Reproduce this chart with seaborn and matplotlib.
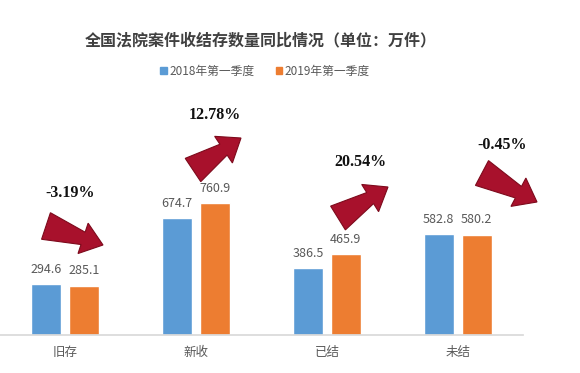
import numpy as np
import pandas as pd
import seaborn as sns
import matplotlib.pyplot as plt
from matplotlib.patches import Polygon

categories = ['旧存', '新收', '已结', '未结']
series_names = ['2018年第一季度', '2019年第一季度']
values_2018 = [294.6, 674.7, 386.5, 582.8]
values_2019 = [285.1, 760.9, 465.9, 580.2]
changes = ['-3.19%', '12.78%', '20.54%', '-0.45%']

df = pd.DataFrame({
    'cat': categories * 2,
    'series': [series_names[0]] * 4 + [series_names[1]] * 4,
    'value': values_2018 + values_2019,
})

sns.set_theme(style="white")
plt.rcParams['font.family'] = ['Noto Sans CJK SC', 'DejaVu Sans']

W, H = 580, 373
fig = plt.figure(figsize=(W / 100, H / 100), dpi=100)
ax = fig.add_axes([0, 38 / H, 523 / W, 240 / H])

colors = ['#5B9BD5', '#ED7D31']
sns.barplot(data=df, x='cat', y='value', hue='series', palette=colors,
            width=0.58, gap=0.21, ax=ax, legend=False, saturation=1)

ax.set_ylim(0, 1387)
ax.set_xlim(-0.5, 3.5)
for s in ['top', 'left', 'right']:
    ax.spines[s].set_visible(False)
ax.spines['bottom'].set_color('#D9D9D9')
ax.set_yticks([])
ax.set_xlabel('')
ax.set_ylabel('')
ax.tick_params(axis='x', length=0, labelsize=9, labelcolor='#595959', pad=8)

for cont in ax.containers:
    ax.bar_label(cont, fmt='%.1f', padding=6, fontsize=9, color='#595959')

# title and legend
fig.text(261 / W, 1 - 40 / H, '全国法院案件收结存数量同比情况（单位：万件）',
         ha='center', va='center', fontsize=11.5, fontweight='bold', color='#404040')
handles = [plt.Rectangle((0, 0), 1, 1, color=c) for c in colors]
fig.legend(handles, series_names, loc='center', bbox_to_anchor=(265 / W, 1 - 71 / H),
           ncol=2, frameon=False, fontsize=8.5, handlelength=0.55, handleheight=0.55,
           handletextpad=0.2, columnspacing=1.8, labelcolor='#595959')


def block_arrow(p0, p1, tail_w=28, neck_w=13, head_w=32, head_len=21):
    """Tapered block arrow from p0 (tail centre) to p1 (tip), pixel coords, y down."""
    p0 = np.array([p0[0], H - p0[1]], float)
    p1 = np.array([p1[0], H - p1[1]], float)
    d = p1 - p0
    u = d / np.hypot(*d)
    n = np.array([-u[1], u[0]])
    neck = p1 - u * head_len
    pts = [p0 + n * tail_w / 2, neck + n * neck_w / 2, neck + n * head_w / 2, p1,
           neck - n * head_w / 2, neck - n * neck_w / 2, p0 - n * tail_w / 2]
    pts = np.array(pts) / [W, H]
    return Polygon(pts, closed=True, transform=fig.transFigure,
                   fc='#A8112C', ec='#7D0A1C', lw=0.8, zorder=5)


# change labels and arrows (figure pixel positions)
label_pos = [(70, 193), (215, 115), (360, 162), (502, 145)]
arrow_pos = [((46, 226), (103, 245)), ((193, 170), (241, 138)),
             ((338, 218), (388, 187)), ((482, 173), (537, 202))]
for txt, (lx, ly) in zip(changes, label_pos):
    fig.text(lx / W, 1 - ly / H, txt, ha='center', va='center', fontsize=11.5,
             fontweight='bold', family='Liberation Serif', color='#111111')
for p0, p1 in arrow_pos:
    fig.patches.append(block_arrow(p0, p1))

fig.savefig('out.png', dpi=100)
